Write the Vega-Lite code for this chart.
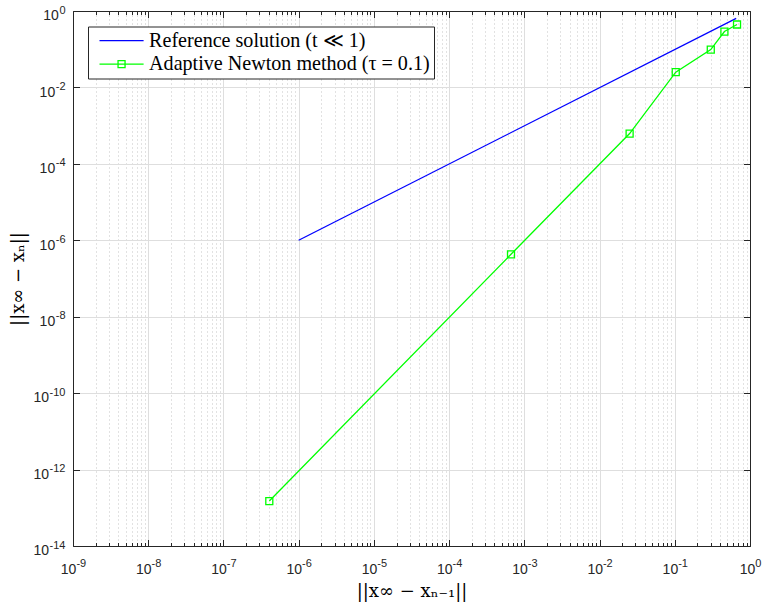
{
  "$schema": "https://vega.github.io/schema/vega-lite/v6.json",
  "width": 677,
  "height": 535,
  "autosize": {"type": "none"},
  "padding": {"left": 73, "top": 11, "right": 13, "bottom": 57},
  "background": "white",
  "config": {
    "view": {"stroke": null},
    "axis": {"labelColor": "#262626", "tickColor": "#262626", "domainColor": "#262626", "tickWidth": 1, "domainWidth": 1}
  },
  "datasets": {
    "ref": [
      {"x": 1e-6, "y": 1e-6, "series": "Reference solution (t ≪ 1)"},
      {"x": 0.655, "y": 0.64, "series": "Reference solution (t ≪ 1)"}
    ],
    "newton": [
      {"x": 4.07e-7, "y": 1.5e-13, "series": "Adaptive Newton method (τ = 0.1)"},
      {"x": 6.65e-4, "y": 4.3e-7, "series": "Adaptive Newton method (τ = 0.1)"},
      {"x": 0.0251, "y": 6.2e-4, "series": "Adaptive Newton method (τ = 0.1)"},
      {"x": 0.103, "y": 0.025, "series": "Adaptive Newton method (τ = 0.1)"},
      {"x": 0.301, "y": 0.098, "series": "Adaptive Newton method (τ = 0.1)"},
      {"x": 0.457, "y": 0.29, "series": "Adaptive Newton method (τ = 0.1)"},
      {"x": 0.672, "y": 0.444, "series": "Adaptive Newton method (τ = 0.1)"}
    ]
  },
  "layer": [
    {
      "data": {"name": "ref"},
      "mark": {"type": "line", "strokeWidth": 1.3},
      "encoding": {
        "x": {
          "field": "x", "type": "quantitative",
          "scale": {"type": "log", "domain": [1e-9, 1], "nice": false},
          "axis": {
            "orient": "bottom",
            "values": [1e-9,2e-9,3e-9,4e-9,5e-9,6e-9,7e-9,8e-9,9e-9,1e-8,2e-8,3e-8,4e-8,5e-8,6e-8,7e-8,8e-8,9e-8,1e-7,2e-7,3e-7,4e-7,5e-7,6e-7,7e-7,8e-7,9e-7,1e-6,2e-6,3e-6,4e-6,5e-6,6e-6,7e-6,8e-6,9e-6,1e-5,2e-5,3e-5,4e-5,5e-5,6e-5,7e-5,8e-5,9e-5,1e-4,2e-4,3e-4,4e-4,5e-4,6e-4,7e-4,8e-4,9e-4,1e-3,2e-3,3e-3,4e-3,5e-3,6e-3,7e-3,8e-3,9e-3,1e-2,2e-2,3e-2,4e-2,5e-2,6e-2,7e-2,8e-2,9e-2,0.1,0.2,0.3,0.4,0.5,0.6,0.7,0.8,0.9,1],
            "grid": true,
            "gridColor": {"condition": {"test": "abs(log(datum.value)/LN10 - round(log(datum.value)/LN10)) < 0.001", "value": "#dedede"}, "value": "#c4c4c4"},
            "gridDash": {"condition": {"test": "abs(log(datum.value)/LN10 - round(log(datum.value)/LN10)) < 0.001", "value": []}, "value": [1, 3]},
            "tickSize": {"condition": {"test": "abs(log(datum.value)/LN10 - round(log(datum.value)/LN10)) < 0.001", "value": -6.5}, "value": -3.5},
            "labelExpr": "abs(log(datum.value)/LN10 - round(log(datum.value)/LN10)) < 0.001 ? '10' : ''",
            "labelFont": "Liberation Sans", "labelFontSize": 14, "labelAlign": "right", "labelBaseline": "top",
            "labelOffset": {"condition": {"test": "datum.value > 0.5", "value": 4.75}, "value": 2.9},
            "labelPadding": 22.5, "labelOverlap": false, "labelFlush": false,
            "title": "||x∞ − xₙ₋₁||", "titleFont": "DejaVu Serif", "titleFontSize": 18, "titleColor": "black",
            "titleFontWeight": "normal", "titleBaseline": "top", "titleY": 36
          }
        },
        "y": {
          "field": "y", "type": "quantitative",
          "scale": {"type": "log", "domain": [1e-14, 1], "nice": false},
          "axis": {
            "orient": "left",
            "values": [1e-14, 1e-12, 1e-10, 1e-8, 1e-6, 1e-4, 1e-2, 1],
            "grid": true, "gridColor": "#dedede", "tickSize": -6.5,
            "labelExpr": "'10'",
            "labelFont": "Liberation Sans", "labelFontSize": 14, "labelAlign": "right", "labelBaseline": "middle",
            "labelOffset": 4.8,
            "labelPadding": {"condition": [{"test": "datum.value > 0.5", "value": 21.1}, {"test": "datum.value < 2e-10", "value": 30.9}], "value": 24.8},
            "labelOverlap": false, "labelFlush": false,
            "title": "||x∞ − xₙ||", "titleFont": "DejaVu Serif", "titleFontSize": 18, "titleColor": "black",
            "titleFontWeight": "normal", "titleX": -45.5
          }
        },
        "color": {
          "field": "series", "type": "nominal",
          "scale": {"domain": ["Reference solution (t ≪ 1)", "Adaptive Newton method (τ = 0.1)"], "range": ["#0000ff", "#00ff00"]},
          "legend": {
            "title": null, "orient": "none", "legendX": 15, "legendY": 15.5,
            "strokeColor": "#262626", "fillColor": "white", "padding": 4, "cornerRadius": 0,
            "labelFont": "Liberation Serif", "labelFontSize": 20.1, "labelColor": "black", "labelLimit": 500,
            "symbolSize": 49, "symbolStrokeWidth": 1.3, "symbolOpacity": 1,
            "symbolOffset": 19.5, "labelOffset": 17.5, "rowPadding": 2.6,
            "encode": {
              "symbols": {
                "update": {
                  "shape": {"signal": "datum.value === 'Adaptive Newton method (τ = 0.1)' ? 'M-6.3,0H6.3M-1,-1H1V1H-1Z' : 'M-6.3,0H6.3'"},
                  "fill": {"value": "transparent"}
                }
              }
            }
          }
        }
      }
    },
    {
      "data": {"name": "newton"},
      "mark": {"type": "line", "strokeWidth": 1.3},
      "encoding": {
        "x": {
          "field": "x", "type": "quantitative",
          "axis": {
            "orient": "bottom",
            "values": [1e-9, 1e-8, 1e-7, 1e-6, 1e-5, 1e-4, 1e-3, 1e-2, 0.1, 1],
            "grid": false, "ticks": false, "domain": false,
            "labelExpr": "'' + round(log(datum.value)/LN10)",
            "labelFont": "Liberation Sans", "labelFontSize": 11, "labelAlign": "left", "labelBaseline": "top",
            "labelOffset": {"condition": {"test": "datum.value > 0.5", "value": 4.75}, "value": 2.9},
            "labelPadding": 11.2, "labelOverlap": false, "labelFlush": false, "title": null
          }
        },
        "y": {
          "field": "y", "type": "quantitative",
          "axis": {
            "orient": "left",
            "values": [1e-14, 1e-12, 1e-10, 1e-8, 1e-6, 1e-4, 1e-2, 1],
            "grid": false, "ticks": false, "domain": false,
            "labelExpr": "'' + round(log(datum.value)/LN10)",
            "labelFont": "Liberation Sans", "labelFontSize": 11, "labelAlign": "right", "labelBaseline": "middle",
            "labelOffset": -0.9, "labelPadding": 8, "labelOverlap": false, "labelFlush": false, "title": null
          }
        },
        "color": {"field": "series", "type": "nominal"}
      }
    },
    {
      "data": {"name": "newton"},
      "mark": {"type": "point", "shape": "square", "size": 49, "filled": false, "strokeWidth": 1.3, "opacity": 1},
      "encoding": {
        "x": {
          "field": "x", "type": "quantitative",
          "axis": {
            "orient": "top",
            "values": [1e-9,2e-9,3e-9,4e-9,5e-9,6e-9,7e-9,8e-9,9e-9,1e-8,2e-8,3e-8,4e-8,5e-8,6e-8,7e-8,8e-8,9e-8,1e-7,2e-7,3e-7,4e-7,5e-7,6e-7,7e-7,8e-7,9e-7,1e-6,2e-6,3e-6,4e-6,5e-6,6e-6,7e-6,8e-6,9e-6,1e-5,2e-5,3e-5,4e-5,5e-5,6e-5,7e-5,8e-5,9e-5,1e-4,2e-4,3e-4,4e-4,5e-4,6e-4,7e-4,8e-4,9e-4,1e-3,2e-3,3e-3,4e-3,5e-3,6e-3,7e-3,8e-3,9e-3,1e-2,2e-2,3e-2,4e-2,5e-2,6e-2,7e-2,8e-2,9e-2,0.1,0.2,0.3,0.4,0.5,0.6,0.7,0.8,0.9,1],
            "grid": false, "labels": false, "domain": true,
            "tickSize": {"condition": {"test": "abs(log(datum.value)/LN10 - round(log(datum.value)/LN10)) < 0.001", "value": -6.5}, "value": -3.5},
            "title": null
          }
        },
        "y": {
          "field": "y", "type": "quantitative",
          "axis": {
            "orient": "right",
            "values": [1e-14, 1e-12, 1e-10, 1e-8, 1e-6, 1e-4, 1e-2, 1],
            "grid": false, "labels": false, "domain": true, "tickSize": -6.5, "title": null
          }
        },
        "color": {"field": "series", "type": "nominal"}
      }
    }
  ],
  "resolve": {"axis": {"x": "independent", "y": "independent"}}
}
